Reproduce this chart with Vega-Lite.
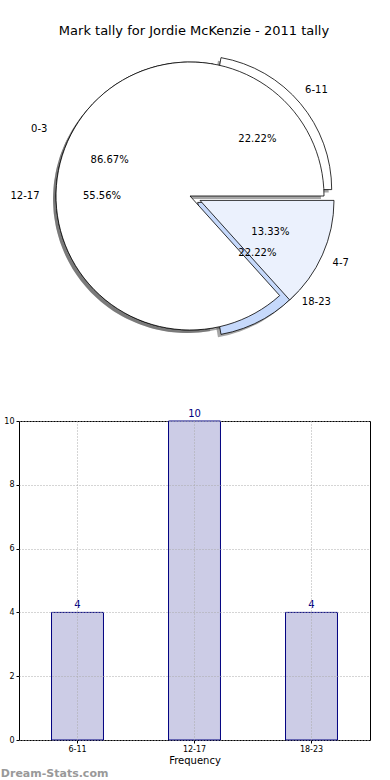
{
  "$schema": "https://vega.github.io/schema/vega-lite/v6.json",
  "padding": {"left": -11, "top": 25, "right": 0, "bottom": 0},
  "background": "white",
  "config": {"font": "DejaVu Sans", "view": {"stroke": null}},
  "spacing": 62,
  "vconcat": [
    {
      "width": 342,
      "height": 300,
      "title": {"text": "Mark tally for Jordie McKenzie - 2011 tally", "fontSize": 13, "fontWeight": "normal", "color": "black", "frame": "group", "anchor": "middle", "offset": 8, "dx": 4},
      "data": {"values": [
        {"pie": "B", "range": "6-11", "share": 0.2222},
        {"pie": "B", "range": "12-17", "share": 0.5556},
        {"pie": "B", "range": "18-23", "share": 0.2222},
        {"pie": "A", "range": "0-3", "share": 0.8667},
        {"pie": "A", "range": "4-7", "share": 0.1333}
      ]},
      "transform": [{"stack": "share", "groupby": ["pie"], "as": ["t0", "t1"]}],
      "encoding": {
        "theta": {"field": "t0", "type": "quantitative", "scale": {"domain": [0, 1], "range": [1.5708, -4.7124]}},
        "theta2": {"field": "t1"}
      },
      "layer": [
        {"transform": [{"filter": "datum.range == '0-3' || datum.range == '12-17'"}],
         "mark": {"type": "arc", "radius": 134, "fill": "#4d4d4d", "opacity": 0.5, "xOffset": -3, "yOffset": 3}},
        {"transform": [{"filter": "datum.range == '6-11'"}],
         "mark": {"type": "arc", "radius": 134, "fill": "#4d4d4d", "opacity": 0.5, "xOffset": 4.7, "yOffset": -3.4}},
        {"transform": [{"filter": "datum.range == '18-23'"}],
         "mark": {"type": "arc", "radius": 134, "fill": "#4d4d4d", "opacity": 0.5, "xOffset": 4.7, "yOffset": 9.4}},
        {"transform": [{"filter": "datum.range == '4-7'"}],
         "mark": {"type": "arc", "radius": 134, "fill": "#4d4d4d", "opacity": 0.5, "xOffset": 7, "yOffset": 7.4}},
        {"transform": [{"filter": "datum.range == '6-11'"}],
         "mark": {"type": "arc", "radius": 134, "fill": "white", "stroke": "black", "strokeWidth": 0.8, "xOffset": 7.7, "yOffset": -6.4}},
        {"transform": [{"filter": "datum.range == '12-17'"}],
         "mark": {"type": "arc", "radius": 134, "fill": "white", "stroke": "black", "strokeWidth": 0.8}},
        {"transform": [{"filter": "datum.range == '18-23'"}],
         "mark": {"type": "arc", "radius": 134, "fill": "#c6d9fb", "stroke": "black", "strokeWidth": 0.8, "xOffset": 7.7, "yOffset": 6.4}},
        {"transform": [{"filter": "datum.range == '0-3'"}],
         "mark": {"type": "arc", "radius": 134, "fill": "white", "stroke": "black", "strokeWidth": 0.8}},
        {"transform": [{"filter": "datum.range == '4-7'"}],
         "mark": {"type": "arc", "radius": 134, "fill": "#ebf1fd", "stroke": "black", "strokeWidth": 0.8, "xOffset": 10, "yOffset": 4.4}},
        {"transform": [{"filter": "datum.pie == 'B'"}],
         "mark": {"type": "text", "radius": 165, "fontSize": 10, "color": "black"},
         "encoding": {"theta": {"field": "share", "type": "quantitative", "stack": true, "scale": {"domain": [0, 1], "range": [1.5708, -4.7124]}}, "theta2": null, "order": {"field": "t0", "type": "quantitative"}, "text": {"field": "range"}}},
        {"transform": [{"filter": "datum.pie == 'A'"}],
         "mark": {"type": "text", "radius": 165, "fontSize": 10, "color": "black"},
         "encoding": {"theta": {"field": "share", "type": "quantitative", "stack": true, "scale": {"domain": [0, 1], "range": [1.5708, -4.7124]}}, "theta2": null, "order": {"field": "t0", "type": "quantitative"}, "text": {"field": "range"}}},
        {"transform": [{"filter": "datum.pie == 'B'"}],
         "mark": {"type": "text", "radius": 88, "fontSize": 10, "color": "black"},
         "encoding": {"theta": {"field": "share", "type": "quantitative", "stack": true, "scale": {"domain": [0, 1], "range": [1.5708, -4.7124]}}, "theta2": null, "order": {"field": "t0", "type": "quantitative"}, "text": {"field": "share", "format": ".2%"}}},
        {"transform": [{"filter": "datum.pie == 'A'"}],
         "mark": {"type": "text", "radius": 88, "fontSize": 10, "color": "black"},
         "encoding": {"theta": {"field": "share", "type": "quantitative", "stack": true, "scale": {"domain": [0, 1], "range": [1.5708, -4.7124]}}, "theta2": null, "order": {"field": "t0", "type": "quantitative"}, "text": {"field": "share", "format": ".2%"}}}
      ]
    },
    {
      "width": 351,
      "height": 319,
      "view": {"stroke": "black", "strokeWidth": 1},
      "title": {"text": "Dream-Stats.com", "orient": "bottom", "anchor": "start", "frame": "bounds", "fontSize": 11, "fontWeight": "bold", "color": "#999999", "offset": 3, "dx": 11},
      "data": {"values": [
        {"range": "6-11", "count": 4},
        {"range": "12-17", "count": 10},
        {"range": "18-23", "count": 4}
      ]},
      "encoding": {
        "x": {"field": "range", "type": "nominal", "sort": null,
              "scale": {"paddingInner": 0, "paddingOuter": 0},
              "axis": {"title": "Frequency", "labelAngle": 0, "labelFontSize": 8, "labelColor": "black", "titleFontSize": 10, "titleFontWeight": "normal", "titleColor": "black", "grid": true, "gridDash": [1, 2], "gridColor": "#aaaaaa", "bandPosition": 0.5, "domain": false, "tickSize": 3, "tickColor": "black", "labelPadding": 2, "titlePadding": 2, "zindex": 1}},
        "y": {"field": "count", "type": "quantitative", "scale": {"domain": [0, 10], "nice": false},
              "axis": {"title": "Occurrences", "values": [0, 2, 4, 6, 8, 10], "labelFontSize": 8, "labelColor": "black", "titleFontSize": 10, "titleFontWeight": "normal", "titleColor": "black", "grid": true, "gridDash": [1, 2], "gridColor": "#aaaaaa", "domain": false, "tickSize": 3, "tickColor": "black", "labelPadding": 2, "titlePadding": 4, "zindex": 1}}
      },
      "layer": [
        {"mark": {"type": "bar", "width": {"band": 0.444}, "fill": "#ccccE6", "stroke": "#000080", "strokeWidth": 1}},
        {"mark": {"type": "text", "dy": -2, "baseline": "bottom", "color": "#000080", "fontSize": 10}, "encoding": {"text": {"field": "count"}}}
      ]
    }
  ]
}
